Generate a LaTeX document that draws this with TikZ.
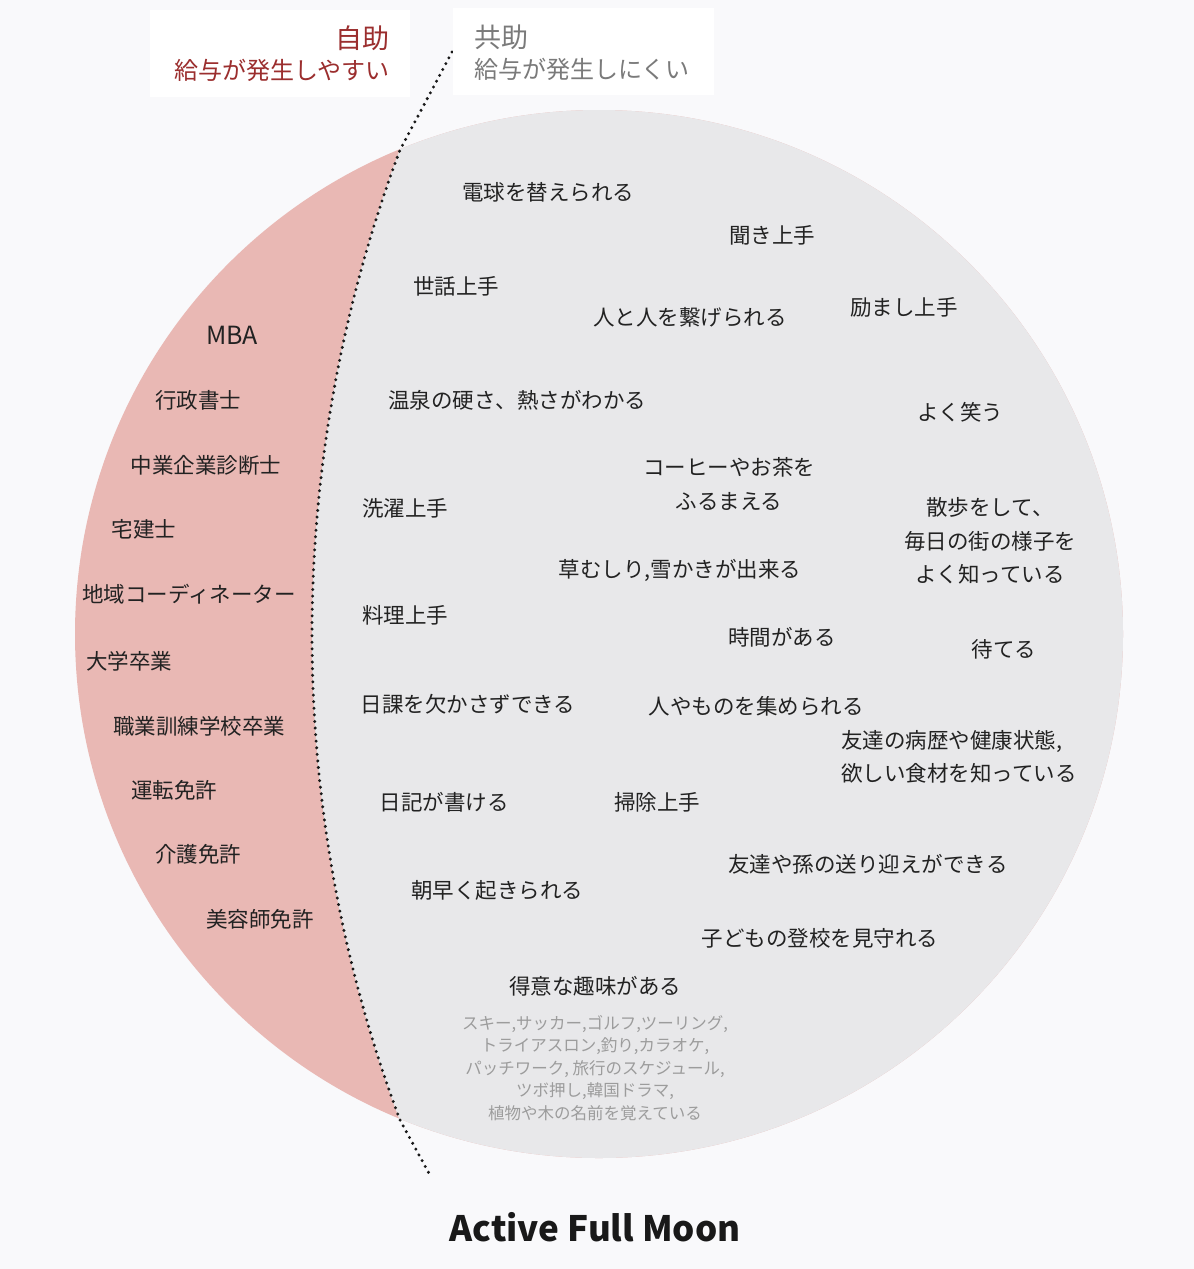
\documentclass[tikz,border=0pt]{standalone}
\usepackage{fontspec}
\newfontfamily\cjk{Noto Sans CJK JP}
\definecolor{bg}{HTML}{F9F9FB}
\definecolor{moonpink}{HTML}{E9B8B4}
\definecolor{moongray}{HTML}{E8E8EA}
\definecolor{selfred}{HTML}{9B2E2E}
\definecolor{mutualgray}{HTML}{7A7A7A}
\definecolor{ink}{HTML}{222222}
\definecolor{hobby}{HTML}{9C9C9C}
\begin{document}
\begin{tikzpicture}[x=1pt,y=-1pt,
  lbl/.style={font=\cjk\fontsize{21.5}{33.5}\selectfont, text=ink, inner sep=0pt, align=center},
  small/.style={font=\cjk\fontsize{16.5}{22.6}\selectfont, text=hobby, inner sep=0pt, align=center},
  hdrbig/.style={font=\cjk\fontsize{27}{30}\selectfont, inner sep=0pt},
  hdrsub/.style={font=\cjk\fontsize{24}{28}\selectfont, inner sep=0pt},
  dotline/.style={line width=3.3pt, line cap=round, dash pattern=on 0pt off 6.6pt, draw=black!90},
  hdrbox/.style={fill=white, draw=none}]
\fill[bg] (0,0) rectangle (1194,1269);
\useasboundingbox (0,0) rectangle (1194,1269);

% moon
\fill[moonpink] (599,634) circle[radius=524pt];
\begin{scope}
  \clip (599,634) circle[radius=524pt];
  \fill[moongray] (1692.5,635) circle[radius=1380.5pt];
\end{scope}

% dotted divider
\coordinate (dtop) at (452,52);
\coordinate (jtop) at (400,150);
\coordinate (dbot) at (431,1177);
\draw[dotline] (dtop) -- (jtop) arc[start angle=159.43, end angle=200.57, radius=1380.5pt] -- (dbot);

% header boxes
\fill[hdrbox] (150,10) rectangle (410,97);
\fill[hdrbox] (453,8) rectangle (714,95);
\node[hdrbig, text=selfred, anchor=east] (jijo) at (390,38) {自助};
\node[hdrsub, text=selfred, anchor=east] (jijosub) at (390,70) {給与が発生しやすい};
\node[hdrbig, text=mutualgray, anchor=west] (kyojo) at (474,37) {共助};
\node[hdrsub, text=mutualgray, anchor=west] (kyojosub) at (474,69) {給与が発生しにくい};

% left (self-help) labels
\node[lbl, font=\cjk\fontsize{25}{30}\selectfont] (mba) at (232,335) {MBA};
\node[lbl] (gyosei) at (198,400) {行政書士};
\node[lbl] (shindan) at (206,465) {中業企業診断士};
\node[lbl] (takken) at (144,529) {宅建士};
\node[lbl] (coord) at (189,594) {地域コーディネーター};
\node[lbl] (daigaku) at (129,661) {大学卒業};
\node[lbl] (shokugyo) at (199,726) {職業訓練学校卒業};
\node[lbl] (unten) at (174,790) {運転免許};
\node[lbl] (kaigo) at (198,854) {介護免許};
\node[lbl] (biyo) at (260,919) {美容師免許};

% right (mutual-help) labels
\node[lbl] (denkyu) at (548,192) {電球を替えられる};
\node[lbl] (kiki) at (772,235) {聞き上手};
\node[lbl] (sewa) at (456,286) {世話上手};
\node[lbl] (tsunage) at (690,317) {人と人を繋げられる};
\node[lbl] (hagemashi) at (904,307) {励まし上手};
\node[lbl] (onsen) at (517,400) {温泉の硬さ、熱さがわかる};
\node[lbl] (warau) at (960,412) {よく笑う};
\node[lbl] (coffee) at (729,484) {コーヒーやお茶を\\ふるまえる};
\node[lbl] (sentaku) at (405,508) {洗濯上手};
\node[lbl] (sanpo) at (990,541) {散歩をして、\\毎日の街の様子を\\よく知っている};
\node[lbl] (kusa) at (680,570) {草むしり,雪かきが出来る};
\node[lbl] (ryori) at (405,615) {料理上手};
\node[lbl] (jikan) at (782,637) {時間がある};
\node[lbl] (materu) at (1004,649) {待てる};
\node[lbl] (nikka) at (468,704) {日課を欠かさずできる};
\node[lbl] (atsume) at (756,706) {人やものを集められる};
\node[lbl, align=left, anchor=west] (byoreki) at (841,757) {友達の病歴や健康状態,\\欲しい食材を知っている};
\node[lbl] (nikki) at (444,802) {日記が書ける};
\node[lbl] (soji) at (657,802) {掃除上手};
\node[lbl] (okurimukae) at (868,864) {友達や孫の送り迎えができる};
\node[lbl] (asa) at (497,890) {朝早く起きられる};
\node[lbl] (tokou) at (820,938) {子どもの登校を見守れる};
\node[lbl] (shumi) at (595,986) {得意な趣味がある};
\node[small] (hobbies) at (595,1068) {スキー,サッカー,ゴルフ,ツーリング,\\トライアスロン,釣り,カラオケ,\\パッチワーク, 旅行のスケジュール,\\ツボ押し,韓国ドラマ,\\植物や木の名前を覚えている};

% title
\node[inner sep=0pt, text=black!90, font=\cjk\bfseries\fontsize{35}{42}\selectfont] (title) at (595,1227) {Active Full Moon};
\end{tikzpicture}
\end{document}
